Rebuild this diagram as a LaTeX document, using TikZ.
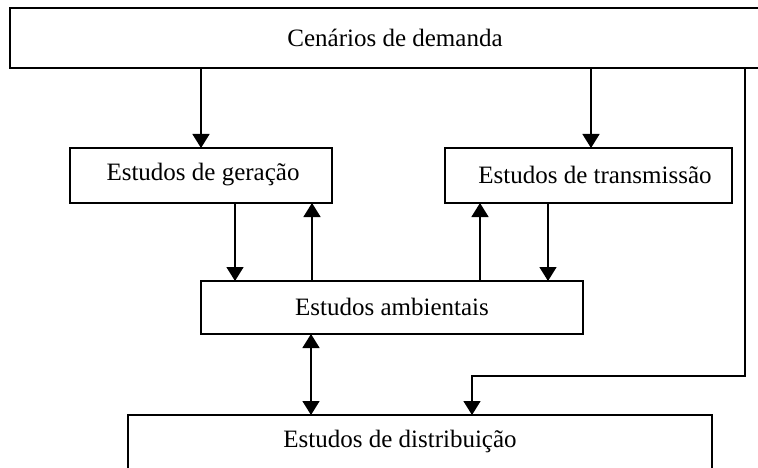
\documentclass[tikz,border=0pt]{standalone}
\usepackage{fontspec}
\setmainfont{Liberation Serif}
\usetikzlibrary{arrows.meta}
\begin{document}
\begin{tikzpicture}[x=1pt,y=-1pt,
  box/.style={draw,line width=1.5pt,inner sep=0pt,outer sep=0pt},
  lbl/.style={inner sep=0pt,font=\fontsize{25}{30}\selectfont},
  tip/.style={-{Triangle[width=17pt,length=14pt]}},
  arr/.style={line width=1.5pt,tip},
  darr/.style={line width=1.5pt,{Triangle[width=17pt,length=14pt]}-{Triangle[width=17pt,length=14pt]}},
  ln/.style={line width=1.5pt}]
\useasboundingbox (0,0) rectangle (758,468);
% boxes
\node[box,minimum width=752pt,minimum height=60pt] (dem) at (386,38) {};
\node[box,minimum width=262pt,minimum height=55pt] (gen) at (201,175.5) {};
\node[box,minimum width=287pt,minimum height=55pt] (tra) at (588.5,175.5) {};
\node[box,minimum width=382pt,minimum height=53pt] (amb) at (392,307.5) {};
\node[box,minimum width=584pt,minimum height=60pt] (dis) at (420,445) {};
% texts
\node[lbl] (tdem) at (395,38) {Cenários de demanda};
\node[lbl] (tgen) at (203,175) {Estudos de geração};
\node[lbl] (ttra) at (595,175) {Estudos de transmissão};
\node[lbl] (tamb) at (392,307) {Estudos ambientais};
\node[lbl] (tdis) at (400,441) {Estudos de distribuição};
% coordinates for connector columns
\coordinate (c1) at (201,0);
\coordinate (c2) at (591,0);
\coordinate (c3) at (745,0);
\coordinate (c4) at (472,376);
\coordinate (g1) at (235,0);
\coordinate (g2) at (312,0);
\coordinate (t1) at (480,0);
\coordinate (t2) at (548,0);
\coordinate (d1) at (311,0);
% connectors
\draw[arr] (dem.south -| c1) -- (gen.north -| c1);
\draw[arr] (dem.south -| c2) -- (tra.north -| c2);
\draw[arr] (gen.south -| g1) -- (amb.north -| g1);
\draw[arr] (amb.north -| g2) -- (gen.south -| g2);
\draw[arr] (amb.north -| t1) -- (tra.south -| t1);
\draw[arr] (tra.south -| t2) -- (amb.north -| t2);
\draw[darr] (amb.south -| d1) -- (dis.north -| d1);
\draw[arr] (dem.south -| c3) -- (c3 |- c4) -- (c4) -- (dis.north -| c4);
\end{tikzpicture}
\end{document}
